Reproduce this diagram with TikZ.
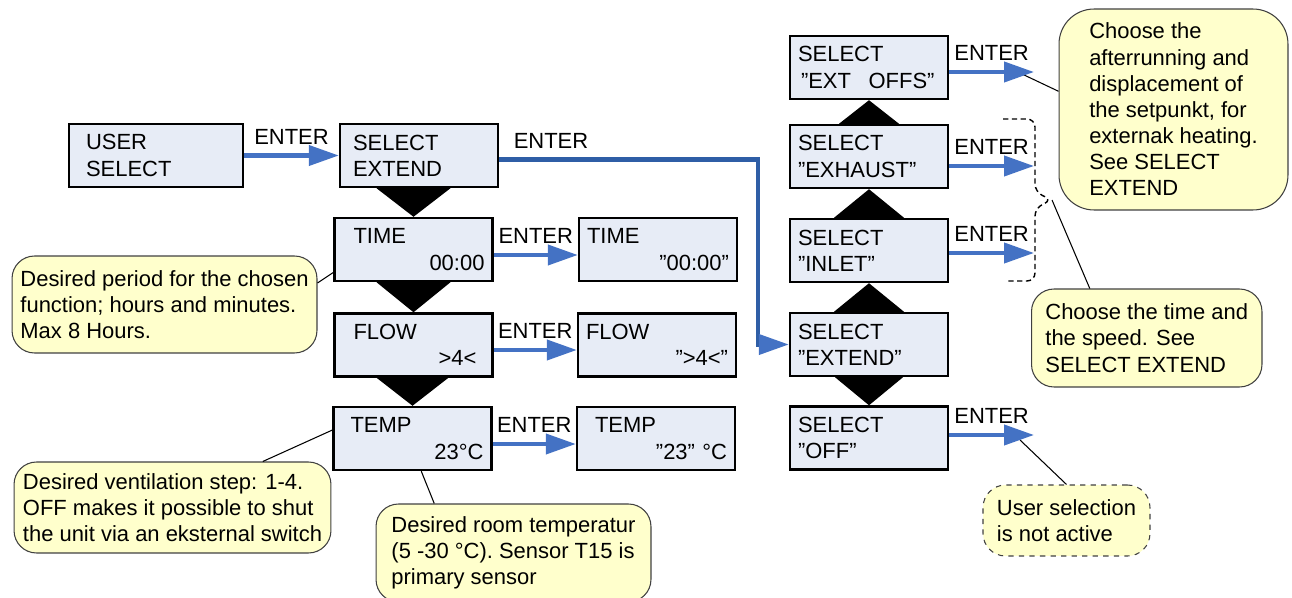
\documentclass[tikz,border=0pt]{standalone}
\usepackage{fontspec}
\setmainfont{Liberation Sans}
\usetikzlibrary{arrows.meta,calc}

\definecolor{lcdfill}{RGB}{231,236,246}
\definecolor{enterblue}{RGB}{68,114,196}
\definecolor{routeblue}{RGB}{47,94,166}
\definecolor{bubblefill}{RGB}{255,255,204}
\definecolor{bubbleline}{RGB}{64,64,64}

\begin{document}
\begin{tikzpicture}[
    x=0.02cm, y=-0.02cm,
    font=\fontsize{12.5}{14.9}\selectfont,
    lcd/.style={rectangle, draw, line width=1.4pt, fill=lcdfill, text width=2.84cm, inner xsep=0.16cm, inner ysep=0pt, minimum height=1.26cm, align=left},
    bubble/.style={rectangle, draw=bubbleline, line width=0.6pt, fill=bubblefill, rounded corners=0.45cm, align=left, inner sep=0.1cm},
    enter/.style={line width=2.3pt, enterblue, -{Triangle[length=0.6cm, width=0.4cm]}},
    route/.style={line width=2.3pt, routeblue, -{Triangle[length=0.6cm, width=0.4cm, color=enterblue]}},
    enterlabel/.style={above, inner sep=0.18cm, text=black},
    callline/.style={draw=black, line width=0.6pt},
    pointer/.style={fill=black}
]
\useasboundingbox (0,0) rectangle (1292,598);

% Menu entry
\node[lcd, text width=3.16cm] (user) at (156,155.5) {\hspace*{0.18cm}USER\\\hspace*{0.18cm}SELECT};
\node[lcd] (select) at (419,155.5) {\hspace*{0.1cm}SELECT\\\hspace*{0.1cm}EXTEND};

% Settings under SELECT EXTEND
\node[lcd] (time) at (413.5,249.5) {\hspace*{0.22cm}TIME\\\hspace*{\fill}00:00};
\node[lcd] (flow) at (413.5,345) {\hspace*{0.22cm}FLOW\\\hspace*{\fill}>4<\kern0.16cm};
\node[lcd] (temp) at (412.5,438.5) {\hspace*{0.18cm}TEMP\\\hspace*{\fill}23°C};

% Setting screens
\node[lcd] (timeset) at (658,249.5) {TIME\\\hspace*{\fill}”00:00"};
\node[lcd] (flowset) at (657,345) {FLOW\\\hspace*{\fill}”>4<”};
\node[lcd] (tempset) at (656,438.5) {\hspace*{0.2cm}TEMP\\\hspace*{\fill}"23" °C};

% Extended selections
\node[lcd] (extoffs) at (869,67.5) {SELECT\\\hspace*{0.06cm}”EXT\hspace{0.8em}OFFS”};
\node[lcd] (exhaust) at (869,156.5) {SELECT\\”EXHAUST”};
\node[lcd] (inlet) at (869,250.5) {SELECT\\”INLET”};
\node[lcd] (extend) at (869,344.5) {SELECT\\”EXTEND”};
\node[lcd] (switchoff) at (869,438) {SELECT\\”OFF”};

% Notes
\node[bubble, minimum width=6.1cm, minimum height=1.94cm] (periodnote) at (164.5,304.5) {Desired period for the chosen\\function; hours and minutes.\\Max 8 Hours.};
\node[bubble, minimum width=6.34cm, minimum height=1.82cm] (stepnote) at (172.5,507.5) {Desired ventilation step: 1-4.\\OFF makes it possible to shut\\the unit via an eksternal switch};
\node[bubble, minimum width=5.5cm, minimum height=1.96cm] (roomnote) at (513.5,553) {Desired room temperatur\\(5 -30 °C). Sensor T15 is\\primary sensor};
\node[bubble, rounded corners=0.7cm, minimum width=4.58cm, minimum height=4.02cm] (extnote) at (1173.5,109.5) {Choose the\\afterrunning and\\displacement of\\the setpunkt, for\\externak heating.\\See SELECT\\EXTEND};
\node[bubble, minimum width=4.61cm, minimum height=1.96cm] (speednote) at (1146.75,338) {Choose the time and\\the speed. See\\SELECT EXTEND};
\node[bubble, dashed, minimum width=3.34cm, minimum height=1.42cm] (offnote) at (1066.5,520.5) {User selection\\is not active};

% Brace around EXHAUST and INLET
\coordinate (bracetip) at (1052,200);
\draw[densely dashed, line width=0.8pt, rounded corners=0.16cm] (1003,119) -- (1035,119) -- (1035,192) -- (bracetip) -- (1035,208) -- (1035,281) -- (1005,281);

% Note lines
\coordinate (extoffshead) at (1022,74);
\coordinate (switchoffhead) at (1020,440);
\draw[callline] (periodnote.8) -- (time.196);
\draw[callline] (stepnote.27) -- (temp.174);
\draw[callline] (roomnote.148) -- (temp.-75);
\draw[callline] (extoffshead) -- (extnote.171);
\draw[callline] (bracetip) -- (speednote.139);
\draw[callline] (switchoffhead) -- (offnote.north);

% ENTER arrows
\coordinate (extoffsout) at (1034,72);
\coordinate (exhaustout) at (1034,166);
\coordinate (inletout) at (1034,253);
\coordinate (switchoffout) at (1034,435);
\coordinate (turn) at (758,344.5);
\draw[enter] (user) -- node[enterlabel] {ENTER} (select);
\draw[enter] ([yshift=-0.11cm]time.east) -- node[enterlabel] {ENTER} ([yshift=-0.11cm]timeset.west);
\draw[enter] ([yshift=-0.1cm]flow.east) -- node[enterlabel] {ENTER} ([yshift=-0.1cm]flowset.west);
\draw[enter] ([yshift=-0.11cm]temp.east) -- node[enterlabel] {ENTER} ([yshift=-0.11cm]tempset.west);
\draw[enter] (extoffs.east |- extoffsout) -- node[enterlabel] {ENTER} (extoffsout);
\draw[enter] (exhaust.east |- exhaustout) -- node[enterlabel] {ENTER} (exhaustout);
\draw[enter] (inlet.east |- inletout) -- node[enterlabel] {ENTER} (inletout);
\draw[enter] (switchoff.east |- switchoffout) -- node[enterlabel] {ENTER} (switchoffout);
\draw[route] ([yshift=-0.08cm]select.east) -| node[enterlabel, pos=0.1] {ENTER} (turn) -- (extend.west);

% Navigation markers
\fill[pointer] ($(time.north |- select.south)+(-37,0)$) -- ($(time.north |- select.south)+(37,0)$) -- (time.north) -- cycle;
\fill[pointer] ($(flow.north |- time.south)+(-37,0)$) -- ($(flow.north |- time.south)+(37,0)$) -- (flow.north) -- cycle;
\fill[pointer] ($(temp.north |- flow.south)+(-36,0)$) -- ($(temp.north |- flow.south)+(36,0)$) -- (temp.north) -- cycle;
\fill[pointer] ($(extoffs.south |- exhaust.north)+(-30,0)$) -- ($(extoffs.south |- exhaust.north)+(30,0)$) -- (extoffs.south) -- cycle;
\fill[pointer] ($(exhaust.south |- inlet.north)+(-35,0)$) -- ($(exhaust.south |- inlet.north)+(35,0)$) -- (exhaust.south) -- cycle;
\fill[pointer] ($(inlet.south |- extend.north)+(-35,0)$) -- ($(inlet.south |- extend.north)+(35,0)$) -- (inlet.south) -- cycle;
\fill[pointer] ($(switchoff.north |- extend.south)+(-34,0)$) -- ($(switchoff.north |- extend.south)+(34,0)$) -- (switchoff.north) -- cycle;

\end{tikzpicture}
\end{document}
